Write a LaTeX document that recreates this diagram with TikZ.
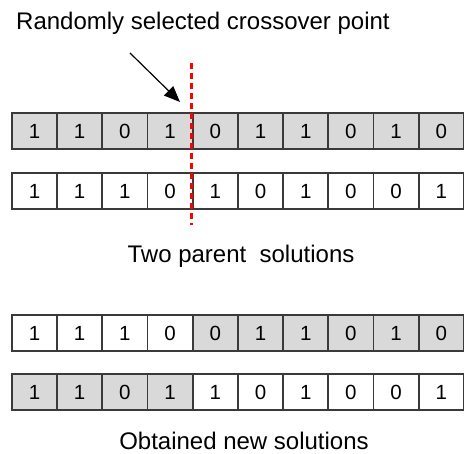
\documentclass[tikz,border=0pt]{standalone}
\usepackage{fontspec}
\setmainfont{Liberation Sans}
\usetikzlibrary{arrows.meta}
\definecolor{cellgray}{HTML}{D9D9D9}
\definecolor{cellborder}{HTML}{3A3A3A}
\tikzset{
  cell/.style={draw=cellborder, line width=1.8pt, minimum width=45.2pt, minimum height=36pt, inner sep=0pt, font=\fontsize{20.5}{22}\selectfont, anchor=north west},
  grayc/.style={cell, fill=cellgray},
  whitec/.style={cell, fill=white},
  caption/.style={font=\fontsize{24}{27}\selectfont, inner sep=0pt},
}
\begin{document}
\begin{tikzpicture}[x=1pt,y=-1pt]
\useasboundingbox (0,0) rectangle (464,454);
\node[caption, anchor=west] (title) at (16,23) {Randomly selected crossover point};
% row 1 (parent 1, gray)
\foreach \b [count=\i from 0] in {1,1,0,1,0,1,1,0,1,0}
  \node[grayc] (a\i) at (11+45.2*\i,112.5) {\b};
% row 2 (parent 2, white)
\foreach \b [count=\i from 0] in {1,1,1,0,1,0,1,0,0,1}
  \node[whitec] (b\i) at (11+45.2*\i,172.5) {\b};
\node[caption] (parents) at (241,256) {Two parent\ \ solutions};
% row 3 (child 1)
\foreach \b [count=\i from 0] in {1,1,1,0}
  \node[whitec] (c\i) at (11+45.2*\i,314.5) {\b};
\foreach \b [count=\i from 4] in {0,1,1,0,1,0}
  \node[grayc] (c\i) at (11+45.2*\i,314.5) {\b};
% row 4 (child 2)
\foreach \b [count=\i from 0] in {1,1,0,1}
  \node[grayc] (d\i) at (11+45.2*\i,373.5) {\b};
\foreach \b [count=\i from 4] in {1,0,1,0,0,1}
  \node[whitec] (d\i) at (11+45.2*\i,373.5) {\b};
\node[caption] (children) at (244,441) {Obtained new solutions};
% crossover line
\coordinate (cutTop) at (191.5,63);
\coordinate (cutBot) at (191.5,225);
\draw[red, line width=2.6pt, dash pattern=on 6pt off 4pt] (cutTop) -- (cutBot);
% arrow
\coordinate (arrS) at (130,53);
\coordinate (arrE) at (180,102);
\draw[line width=1.2pt, -{Triangle[length=16pt,width=13pt]}] (arrS) -- (arrE);
\end{tikzpicture}
\end{document}
